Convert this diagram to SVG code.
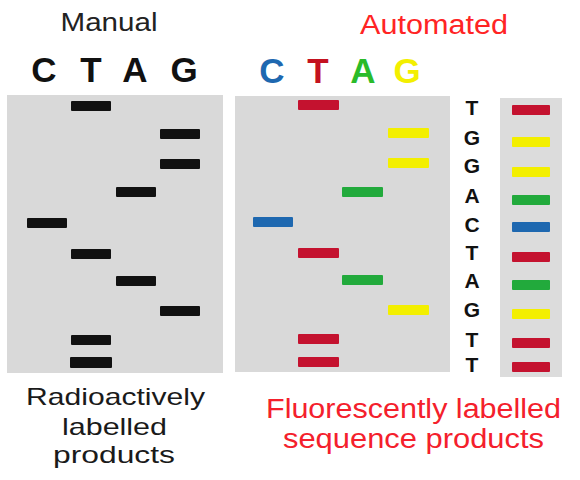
<svg xmlns="http://www.w3.org/2000/svg" width="580" height="480" viewBox="0 0 580 480">
<style>
.gel{fill:#d9d9d9}
.strip{fill:#dcdcdc}
.b{fill:#111}
.r{fill:#c4122f}
.y{fill:#f3ef00}
.g{fill:#22aa3c}
.u{fill:#1e68b0}
.t{font-family:"Liberation Sans",Arial,sans-serif;text-anchor:middle}
.hd{font-family:"Liberation Sans",Arial,sans-serif;font-weight:bold;font-size:35px;text-anchor:middle}
.sq{font-family:"Liberation Sans",Arial,sans-serif;font-weight:bold;font-size:21px;text-anchor:middle;fill:#111}
</style>
<rect width="580" height="480" fill="#ffffff"/>

<g id="manual-header">
<text class="t" x="109" y="31" font-size="25" fill="#222" textLength="97" lengthAdjust="spacingAndGlyphs">Manual</text>
<text class="hd" x="44" y="82" fill="#111">C</text>
<text class="hd" x="91" y="82" fill="#111">T</text>
<text class="hd" x="135" y="82" fill="#111">A</text>
<text class="hd" x="184" y="82" fill="#111">G</text>
</g>

<g id="automated-header">
<text class="t" x="434" y="34" font-size="27" fill="#ff2424" textLength="148" lengthAdjust="spacingAndGlyphs">Automated</text>
<text class="hd" x="272" y="83" fill="#1e68b0">C</text>
<text class="hd" x="318" y="83" fill="#c4121f">T</text>
<text class="hd" x="363" y="83" fill="#2abb2a">A</text>
<text class="hd" x="407" y="83" fill="#f3ef00">G</text>
</g>

<g id="manual-gel">
<rect class="gel" x="7" y="95" width="216" height="278"/>
<rect class="b" x="71" y="101" width="40" height="10" rx="1"/>
<rect class="b" x="160" y="129" width="40" height="10" rx="1"/>
<rect class="b" x="160" y="159" width="40" height="10" rx="1"/>
<rect class="b" x="116" y="187" width="40" height="10" rx="1"/>
<rect class="b" x="27" y="218" width="40" height="10" rx="1"/>
<rect class="b" x="71" y="249" width="40" height="10" rx="1"/>
<rect class="b" x="116" y="276" width="40" height="10" rx="1"/>
<rect class="b" x="160" y="306" width="40" height="10" rx="1"/>
<rect class="b" x="71" y="335" width="40" height="10" rx="1"/>
<rect class="b" x="70" y="357" width="42" height="11" rx="1"/>
</g>

<g id="automated-gel">
<rect class="gel" x="235" y="96" width="215" height="276"/>
<rect class="r" x="298" y="100" width="41" height="10" rx="1"/>
<rect class="y" x="388" y="128" width="41" height="10" rx="1"/>
<rect class="y" x="388" y="158" width="41" height="10" rx="1"/>
<rect class="g" x="342" y="187" width="41" height="10" rx="1"/>
<rect class="u" x="253" y="217" width="40" height="10" rx="1"/>
<rect class="r" x="298" y="248" width="41" height="10" rx="1"/>
<rect class="g" x="342" y="275" width="41" height="10" rx="1"/>
<rect class="y" x="388" y="305" width="41" height="10" rx="1"/>
<rect class="r" x="298" y="334" width="41" height="10" rx="1"/>
<rect class="r" x="298" y="357" width="41" height="10" rx="1"/>
</g>

<g id="sequence-letters">
<text class="sq" x="472" y="115">T</text>
<text class="sq" x="472" y="145">G</text>
<text class="sq" x="472" y="173">G</text>
<text class="sq" x="472" y="203">A</text>
<text class="sq" x="472" y="232">C</text>
<text class="sq" x="472" y="260">T</text>
<text class="sq" x="472" y="288">A</text>
<text class="sq" x="472" y="317">G</text>
<text class="sq" x="472" y="347">T</text>
<text class="sq" x="472" y="372">T</text>
</g>

<g id="sequence-strip">
<rect class="strip" x="500" y="98" width="62" height="279"/>
<rect class="r" x="512" y="105" width="38" height="10" rx="1"/>
<rect class="y" x="512" y="137" width="38" height="10" rx="1"/>
<rect class="y" x="512" y="167" width="38" height="10" rx="1"/>
<rect class="g" x="512" y="195" width="38" height="10" rx="1"/>
<rect class="u" x="512" y="222" width="38" height="10" rx="1"/>
<rect class="r" x="512" y="252" width="38" height="10" rx="1"/>
<rect class="g" x="512" y="280" width="38" height="10" rx="1"/>
<rect class="y" x="512" y="309" width="38" height="10" rx="1"/>
<rect class="r" x="512" y="338" width="38" height="10" rx="1"/>
<rect class="r" x="512" y="362" width="38" height="10" rx="1"/>
</g>

<g id="manual-caption">
<text class="t" x="115.5" y="405" font-size="24" fill="#1a1a1a" textLength="179" lengthAdjust="spacingAndGlyphs">Radioactively</text>
<text class="t" x="114.5" y="435" font-size="24" fill="#1a1a1a" textLength="105" lengthAdjust="spacingAndGlyphs">labelled</text>
<text class="t" x="114" y="463" font-size="24" fill="#1a1a1a" textLength="122" lengthAdjust="spacingAndGlyphs">products</text>
</g>

<g id="automated-caption">
<text class="t" x="413.5" y="418" font-size="27" fill="#f4202c" textLength="295" lengthAdjust="spacingAndGlyphs">Fluorescently labelled</text>
<text class="t" x="413.5" y="448" font-size="27" fill="#f4202c" textLength="261" lengthAdjust="spacingAndGlyphs">sequence products</text>
</g>
</svg>
